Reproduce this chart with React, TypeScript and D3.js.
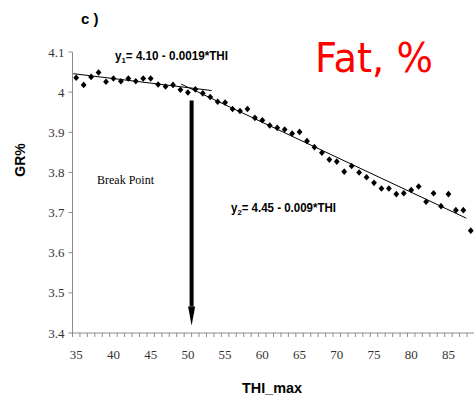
import React from "react";
import * as d3 from "d3";

const thi = [35,36,37,38,39,40,41,42,43,44,45,46,47,48,49,50,51,52,53,54,55,56,57,58,59,60,61,62,63,64,65,66,67,68,69,70,71,72,73,74,75,76,77,78,79,80,81,82,83,84,85,86,87,88];
const gr = [4.036,4.018,4.038,4.049,4.026,4.034,4.027,4.034,4.027,4.034,4.034,4.019,4.014,4.018,4.006,3.999,4.007,3.997,3.988,3.976,3.974,3.958,3.953,3.958,3.936,3.930,3.917,3.911,3.907,3.897,3.901,3.878,3.863,3.849,3.832,3.827,3.802,3.816,3.800,3.788,3.774,3.760,3.760,3.746,3.748,3.756,3.765,3.727,3.748,3.716,3.746,3.706,3.706,3.655];
const xTickLabels = [35,40,45,50,55,60,65,70,75,80,85];
const yTicks = [3.4,3.5,3.6,3.7,3.8,3.9,4.0,4.1];
const yTickLabels = ["3.4","3.5","3.6","3.7","3.8","3.9","4","4.1"];
const trend1 = [[34.6, 4.046],[53.2, 4.004]];
const trend2 = [[49.1, 4.020],[87.4, 3.686]];
const breakX = 50.5;
const arrowFrom = 3.979;
const arrowHeadStart = 3.466;
const arrowTip = 3.418;

export default function App() {
  const W = 474, H = 399;
  const x = d3.scaleLinear().domain([34.5, 88.5]).range([72.5, 474.5]);
  const y = d3.scaleLinear().domain([3.4, 4.1]).range([333, 52]);
  const line = d3.line<number[]>().x(d => x(d[0])).y(d => y(d[1]));
  const axisColor = "#8c8c8c";
  const tickBoundaries = thi.map(t => t - 0.5).concat([thi[thi.length - 1] + 0.5]);
  const diamond = "M0,-3.3L2.9,0L0,3.3L-2.9,0Z";
  const ax = x(breakX);
  return (
    <svg width={W} height={H} style={{ position: "fixed", left: 0, top: 0, background: "#fff" }}>
      <rect width={W} height={H} fill="#fff" />
      <line x1={x.range()[0]} x2={x.range()[0]} y1={y(4.1)} y2={y(3.4)} stroke={axisColor} strokeWidth={1} />
      <line x1={x.range()[0]} x2={W} y1={y(3.4)} y2={y(3.4)} stroke={axisColor} strokeWidth={1} />
      {yTicks.map((t, i) => (
        <g key={"y" + i}>
          <line x1={x.range()[0] - 4} x2={x.range()[0]} y1={y(t)} y2={y(t)} stroke={axisColor} />
          <text x={x.range()[0] - 8} y={y(t) + 4.5} textAnchor="end" fontFamily="'Liberation Serif', serif" fontSize={13} fill="#333">{yTickLabels[i]}</text>
        </g>
      ))}
      {tickBoundaries.map((t, i) => (
        <line key={"xt" + i} x1={x(t)} x2={x(t)} y1={y(3.4)} y2={y(3.4) + 4} stroke={axisColor} />
      ))}
      {xTickLabels.map((t, i) => (
        <text key={"xl" + i} x={x(t)} y={359} textAnchor="middle" fontFamily="'Liberation Serif', serif" fontSize={13} fill="#333">{t}</text>
      ))}
      <path d={line(trend1) || ""} stroke="#000" strokeWidth={1} fill="none" />
      <path d={line(trend2) || ""} stroke="#000" strokeWidth={1} fill="none" />
      {thi.map((t, i) => (
        <path key={"p" + i} d={diamond} transform={`translate(${x(t)},${y(gr[i])})`} fill="#000" />
      ))}
      <line x1={ax} x2={ax} y1={y(arrowFrom)} y2={y(arrowHeadStart)} stroke="#000" strokeWidth={4} />
      <path d={`M${ax - 3.5},${y(arrowHeadStart)}L${ax + 3.5},${y(arrowHeadStart)}L${ax},${y(arrowTip)}Z`} fill="#000" />
      <text x={81} y={24} fontFamily="'Liberation Sans', Arial, sans-serif" fontWeight="bold" fontSize={15}>c )</text>
      <text x={115} y={60} fontFamily="'Liberation Sans Narrow', 'Liberation Sans', Arial, sans-serif" fontWeight="bold" fontSize={12} textLength={113} lengthAdjust="spacingAndGlyphs">y<tspan fontSize={8} dy={3}>1</tspan><tspan dy={-3}>= 4.10 - 0.0019*THI</tspan></text>
      <text x={231} y={212} fontFamily="'Liberation Sans Narrow', 'Liberation Sans', Arial, sans-serif" fontWeight="bold" fontSize={12} textLength={105} lengthAdjust="spacingAndGlyphs">y<tspan fontSize={8} dy={3}>2</tspan><tspan dy={-3}>= 4.45 - 0.009*THI</tspan></text>
      <text x={97} y={184} fontFamily="'Liberation Serif', serif" fontSize={12} fill="#000">Break Point</text>
      <text x={315} y={72} fontFamily="'Comic Sans MS', 'DejaVu Sans', sans-serif" fontSize={41} fill="#ff0000" textLength={118} lengthAdjust="spacingAndGlyphs">Fat, %</text>
      <text transform="translate(25,160) rotate(-90)" textAnchor="middle" fontFamily="'Liberation Sans', Arial, sans-serif" fontWeight="bold" fontSize={14}>GR%</text>
      <text x={272} y={393} textAnchor="middle" fontFamily="'Liberation Sans', Arial, sans-serif" fontWeight="bold" fontSize={15} textLength={60} lengthAdjust="spacingAndGlyphs">THI_max</text>
    </svg>
  );
}
